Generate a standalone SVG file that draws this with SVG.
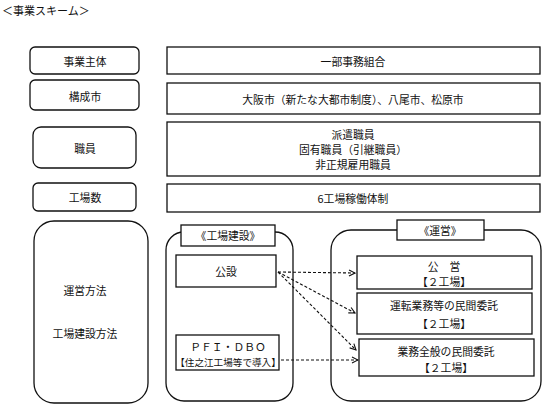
<svg xmlns="http://www.w3.org/2000/svg" width="550" height="409" viewBox="0 0 550 409">
<defs>
<marker id="ah" markerWidth="8" markerHeight="8" refX="7" refY="4" orient="auto" markerUnits="userSpaceOnUse">
<path d="M1,1 L7,4 L1,7" fill="none" stroke="#111" stroke-width="1.1"/>
</marker>
</defs>
<style>
text{font-family:"Noto Sans CJK JP","Noto Sans",sans-serif;font-size:10.8px;fill:#111;text-anchor:middle;dominant-baseline:central}
.b{fill:#fff;stroke:#111;stroke-width:1.3}
.c{fill:none;stroke:#111;stroke-width:1.1;stroke-dasharray:3,2;marker-end:url(#ah)}
</style>
<rect width="550" height="409" fill="#fff"/>
<text x="2" y="10" style="text-anchor:start;font-size:11px">＜事業スキーム＞</text>

<g id="n-jigyoshutai"><rect class="b" x="30" y="47" width="109" height="27" rx="5"/><text x="85" y="61">事業主体</text></g>
<g id="n-koseishi"><rect class="b" x="30" y="80" width="109" height="30" rx="5"/><text x="85" y="96">構成市</text></g>
<g id="n-shokuin"><rect class="b" x="33" y="127" width="103" height="41" rx="8"/><text x="85" y="148">職員</text></g>
<g id="n-kojosu"><rect class="b" x="33" y="183" width="103" height="28" rx="5"/><text x="85" y="197">工場数</text></g>

<g id="n-ichibu"><rect class="b" x="167" y="47" width="373" height="27"/><text x="353" y="61">一部事務組合</text></g>
<g id="n-shi"><rect class="b" x="167" y="83" width="373" height="31"/><text x="353" y="99">大阪市（新たな大都市制度）、八尾市、松原市</text></g>
<g id="n-shokuin2"><rect class="b" x="167" y="122" width="373" height="54"/><text x="353" y="134">派遣職員</text><text x="353" y="149">固有職員（引継職員）</text><text x="353" y="164">非正規雇用職員</text></g>
<g id="n-kojo6"><rect class="b" x="167" y="184" width="373" height="28"/><text x="353" y="198">6工場稼働体制</text></g>

<g id="n-hoho"><rect class="b" x="34" y="221" width="114" height="182" rx="20"/><text x="85" y="290">運営方法</text><text x="85" y="333">工場建設方法</text></g>

<g id="n-kensetsu"><rect class="b" x="166" y="232" width="127" height="169" rx="18"/><rect class="b" x="181" y="225" width="94" height="21"/><text x="228" y="235">《工場建設》</text></g>
<g id="n-kosetsu"><rect class="b" x="176" y="255" width="100" height="32"/><text x="226" y="271">公設</text></g>
<g id="n-pfi"><rect class="b" x="176" y="335" width="103" height="35"/><text x="228" y="346">ＰＦＩ・ＤＢＯ</text><text x="228" y="362" style="font-size:9.6px">【住之江工場等で導入】</text></g>

<g id="n-unei"><rect class="b" x="331" y="230" width="210" height="171" rx="20"/><rect class="b" x="397" y="220" width="87" height="20"/><text x="440" y="230">《運営》</text></g>
<g id="n-koei"><rect class="b" x="357" y="256" width="175" height="33"/><text x="444" y="266">公　営</text><text x="444" y="281">【２工場】</text></g>
<g id="n-unten"><rect class="b" x="357" y="293" width="175" height="41"/><text x="444" y="305">運転業務等の民間委託</text><text x="444" y="323">【２工場】</text></g>
<g id="n-gyomu"><rect class="b" x="359" y="339" width="175" height="37"/><text x="446" y="351">業務全般の民間委託</text><text x="446" y="367">【２工場】</text></g>

<g id="connectors">
<path class="c" d="M278,272 L355,273"/>
<path class="c" d="M278,272 L355,313"/>
<path class="c" d="M278,272 L356,350"/>
<path class="c" d="M281,360 L358,360"/>
</g>
</svg>
